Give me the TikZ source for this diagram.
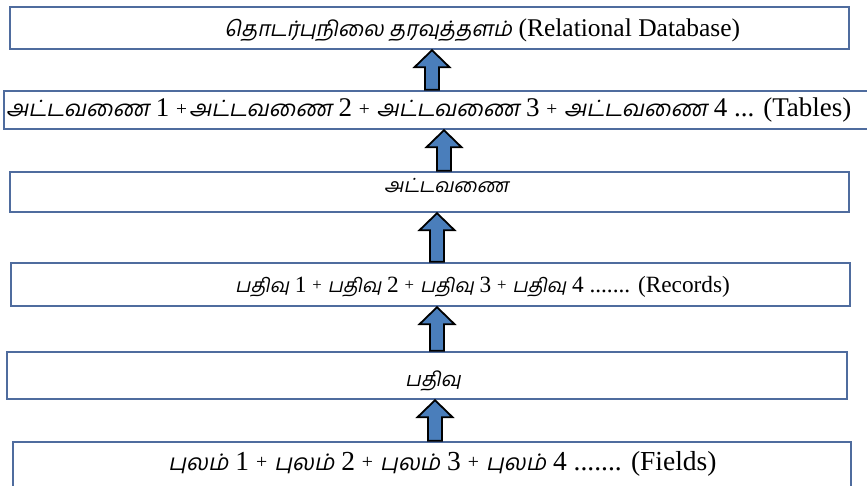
\documentclass[tikz,border=0pt]{standalone}
\usepackage{fontspec}
\setmainfont{Liberation Serif}
\newfontfamily\tamil[Script=Tamil,FakeSlant=0.2]{Hind Madurai}
\usetikzlibrary{calc}
\definecolor{boxblue}{RGB}{79,108,158}
\definecolor{arrowfill}{RGB}{74,126,187}
\def\tsize{20pt}
\newcommand\ta[1]{{\fontsize{\tsize}{\tsize}\selectfont\tamil #1}}
\newcommand\lsz[2]{\def\tsize{#1pt}\fontsize{#2}{#2}\selectfont}
\newcommand\pl{\raisebox{0.06em}{\scalebox{0.72}{+}}}
\newcommand\blockarrow[3]{% #1 x, #2 lower node, #3 upper node
  \path[arrowst] let \p1=(#2.north), \p2=(#3.south) in
    (#1pt-7pt,\y1) -- (#1pt-7pt,\y2-17pt) -- (#1pt-17.5pt,\y2-17pt) -- (#1pt,\y2)
    -- (#1pt+17.5pt,\y2-17pt) -- (#1pt+7pt,\y2-17pt) -- (#1pt+7pt,\y1) -- cycle;}
\tikzset{
  boxst/.style={draw=boxblue, line width=2.4pt, rectangle, inner sep=0pt, fill=white},
  arrowst/.style={draw=black, line width=1.8pt, fill=arrowfill, line join=miter},
  txt/.style={inner sep=0pt, anchor=base west}
}
\begin{document}
\begin{tikzpicture}[x=1pt,y=-1pt]
\useasboundingbox (0,0) rectangle (867,486);
\fill[white] (0,0) rectangle (867,486);
\node[boxst, minimum width=839pt, minimum height=42pt] (b1) at (429.5,28) {};
\node[boxst, minimum width=868pt, minimum height=38pt] (b2) at (438,110) {};
\node[boxst, minimum width=839pt, minimum height=40pt] (b3) at (429.5,192) {};
\node[boxst, minimum width=839pt, minimum height=43pt] (b4) at (430.5,284.5) {};
\node[boxst, minimum width=840pt, minimum height=47pt] (b5) at (427,375.5) {};
\node[boxst, minimum width=838pt, minimum height=58pt] (b6) at (432,471) {};
\node[txt] (t1) at (224,37) {\lsz{21.3}{25.5}\ta{தொடர்புநிலை தரவுத்தளம்} (Relational Database)};
\node[txt] (t2) at (6,117) {\lsz{22.4}{27}\ta{அட்டவணை} 1 \pl\hspace{2pt}\ta{அட்டவணை} 2 \pl{} \ta{அட்டவணை} 3 \pl{} \ta{அட்டவணை} 4 ... (Tables)};
\node[txt] (t3) at (384,193) {\lsz{19.5}{24}\ta{அட்டவணை}};
\node[txt] (t4) at (235,292) {\lsz{19.4}{23.3}\ta{பதிவு} 1 \pl{} \ta{பதிவு} 2 \pl{} \ta{பதிவு} 3 \pl{} \ta{பதிவு} 4 ....... (Records)};
\node[txt] (t5) at (405,386) {\lsz{20}{24}\ta{பதிவு}};
\node[txt] (t6) at (168,470) {\lsz{22.8}{27.5}\ta{புலம்} 1 \pl{} \ta{புலம்} 2 \pl{} \ta{புலம்} 3 \pl{} \ta{புலம்} 4 ....... (Fields)};
\blockarrow{432}{b2}{b1}
\blockarrow{444}{b3}{b2}
\blockarrow{437}{b4}{b3}
\blockarrow{437}{b5}{b4}
\blockarrow{435}{b6}{b5}
\end{tikzpicture}
\end{document}
